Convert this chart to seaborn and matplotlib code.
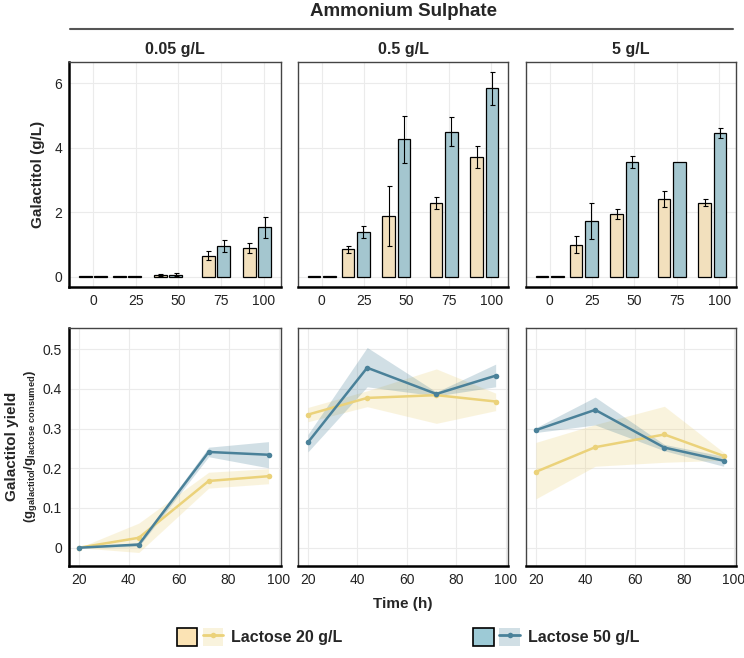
import numpy as np
import pandas as pd
import matplotlib.pyplot as plt
import seaborn as sns
from matplotlib.patches import Patch
from matplotlib.lines import Line2D
from matplotlib.legend_handler import HandlerTuple

"data"
panels = ['0.05 g/L', '0.5 g/L', '5 g/L']
lactose = ['Lactose 20 g/L', 'Lactose 50 g/L']

# galactitol titre (g/L), one row per ammonium sulphate level
bar_time = [0, 20, 44, 72, 96]
gal_20 = [[0.01, 0.01, 0.05, 0.65, 0.90],
          [0.01, 0.85, 1.88, 2.28, 3.72],
          [0.01, 0.99, 1.95, 2.41, 2.29]]
gal_20_sd = [[0, 0, 0.04, 0.14, 0.15],
             [0, 0.11, 0.92, 0.19, 0.35],
             [0, 0.26, 0.16, 0.24, 0.11]]
gal_50 = [[0.01, 0.01, 0.06, 0.95, 1.53],
          [0.01, 1.39, 4.26, 4.50, 5.84],
          [0.01, 1.73, 3.55, 3.57, 4.46]]
gal_50_sd = [[0, 0, 0.05, 0.18, 0.32],
             [0, 0.18, 0.73, 0.45, 0.50],
             [0, 0.55, 0.19, 0.0, 0.15]]

# galactitol yield (g/g lactose consumed) with shaded range
line_time = [20, 44, 72, 96]
yld_20 = [[0.0, 0.025, 0.168, 0.180],
          [0.335, 0.377, 0.384, 0.368],
          [0.191, 0.253, 0.285, 0.231]]
yld_20_lo = [[0.0, -0.012, 0.150, 0.161],
             [0.317, 0.355, 0.313, 0.345],
             [0.123, 0.205, 0.215, 0.220]]
yld_20_hi = [[0.0, 0.062, 0.190, 0.199],
             [0.353, 0.395, 0.450, 0.389],
             [0.265, 0.310, 0.356, 0.240]]
yld_50 = [[0.0, 0.008, 0.241, 0.234],
          [0.265, 0.453, 0.387, 0.433],
          [0.296, 0.347, 0.252, 0.219]]
yld_50_lo = [[0.0, 0.003, 0.229, 0.201],
             [0.241, 0.405, 0.382, 0.405],
             [0.290, 0.309, 0.244, 0.205]]
yld_50_hi = [[0.0, 0.013, 0.253, 0.267],
             [0.285, 0.504, 0.392, 0.462],
             [0.302, 0.379, 0.260, 0.230]]

bar_cols = ['#FBE3B4', '#9DCAD6']
line_cols = ['#EBD27A', '#4A8199']

sns.set_style('whitegrid')
plt.rcParams['font.family'] = ['Liberation Sans', 'DejaVu Sans']
plt.rcParams['mathtext.fontset'] = 'custom'
plt.rcParams['mathtext.rm'] = 'Liberation Sans'
plt.rcParams['mathtext.bf'] = 'Liberation Sans:bold'

W, H = 744, 658
fig = plt.figure(figsize=(W / 100, H / 100), dpi=100)
lefts = [69, 298, 526]
widths = [212, 210, 210]


def px(l, t, w, h):
    return [l / W, 1 - (t + h) / H, w / W, h / H]


def style(ax, first):
    ax.set_facecolor('white')
    ax.grid(True, color='#EBEBEB', lw=0.8)
    for s in ax.spines.values():
        s.set_color('#444444')
        s.set_linewidth(1.0)
        s.set_visible(True)
    ax.spines['bottom'].set_color('black')
    ax.spines['bottom'].set_linewidth(1.8)
    if first:
        ax.spines['left'].set_color('black')
        ax.spines['left'].set_linewidth(1.8)
    ax.tick_params(labelsize=10, length=0, pad=5, colors='#222222')
    ax.set_xlabel('')
    ax.set_ylabel('')


for i in range(3):
    # top row: bars
    ax = fig.add_axes(px(lefts[i], 62, widths[i], 225))
    df = pd.DataFrame({
        'time': bar_time * 2,
        'gal': gal_20[i] + gal_50[i],
        'lac': [lactose[0]] * 5 + [lactose[1]] * 5,
    })
    sns.barplot(data=df, x='time', y='gal', hue='lac', hue_order=lactose,
                palette=bar_cols, native_scale=True, width=0.9, gap=0.17,
                errorbar=None, edgecolor='black', linewidth=0.9,
                legend=False, ax=ax)
    for cont, sds in zip(ax.containers, [gal_20_sd[i], gal_50_sd[i]]):
        for bar, sd in zip(cont, sds):
            if sd > 0:
                ax.errorbar(bar.get_x() + bar.get_width() / 2, bar.get_height(),
                            yerr=sd, color='black', lw=0.8, capsize=1.8,
                            capthick=0.8)
    ax.set_xlim(-14, 110)
    ax.set_ylim(-0.317, 6.66)
    ax.set_xticks([0, 25, 50, 75, 100])
    ax.set_yticks([0, 2, 4, 6])
    style(ax, i == 0)
    if i > 0:
        ax.set_yticklabels([])
    ax.set_title(panels[i], fontsize=11.5, fontweight='bold', pad=6)

    # bottom row: yield lines
    ax2 = fig.add_axes(px(lefts[i], 328, widths[i], 238))
    dl = pd.DataFrame({
        'time': line_time * 2,
        'yield': yld_20[i] + yld_50[i],
        'lac': [lactose[0]] * 4 + [lactose[1]] * 4,
    })
    for k, (lo, hi) in enumerate([(yld_20_lo[i], yld_20_hi[i]),
                                  (yld_50_lo[i], yld_50_hi[i])]):
        ax2.fill_between(line_time, lo, hi, color=line_cols[k], alpha=0.25,
                         lw=0)
    sns.lineplot(data=dl, x='time', y='yield', hue='lac', hue_order=lactose,
                 palette=line_cols, marker='o', markersize=4,
                 markeredgewidth=0, lw=1.8, errorbar=None, legend=False,
                 ax=ax2)
    ax2.set_xlim(16, 101)
    ax2.set_ylim(-0.046, 0.553)
    ax2.set_xticks([20, 40, 60, 80, 100])
    ax2.set_yticks([0, 0.1, 0.2, 0.3, 0.4, 0.5])
    style(ax2, i == 0)
    if i == 0:
        ax2.set_yticklabels(['0', '0.1', '0.2', '0.3', '0.4', '0.5'])
    else:
        ax2.set_yticklabels([])

# header
fig.text(404 / W, 1 - 12 / H, 'Ammonium Sulphate', ha='center', va='center',
         fontsize=13.5, fontweight='bold')
fig.add_artist(Line2D([70 / W, 733 / W], [1 - 29 / H] * 2, color='#555555',
                      lw=1.5))

# axis labels
fig.text(38 / W, 1 - 174 / H, 'Galactitol (g/L)', rotation=90, ha='center',
         va='center', fontsize=11, fontweight='bold')
fig.text(12 / W, 1 - 446 / H, 'Galactitol yield', rotation=90, ha='center',
         va='center', fontsize=11, fontweight='bold')
fig.text(31 / W, 1 - 446 / H,
         r'$\mathbf{(g_{galactitol}/g_{lactose\ consumed})}$', rotation=90,
         ha='center', va='center', fontsize=9.5)
fig.text(403 / W, 1 - 604 / H, 'Time (h)', ha='center', va='center',
         fontsize=11, fontweight='bold')

# legend
handles = []
hmap = {}
for k in range(2):
    sq = Patch(facecolor=bar_cols[k], edgecolor='black', lw=1.2)
    band = Patch(facecolor=line_cols[k], alpha=0.25, edgecolor='none')
    ln = Line2D([], [], color=line_cols[k], lw=2, marker='o', markersize=4,
                markeredgewidth=0)
    h = (sq, (band, ln))
    handles.append(h)
    hmap[h] = HandlerTuple(ndivide=None, pad=0.35)
fig.legend(handles, lactose, handler_map=hmap, loc='center',
           bbox_to_anchor=(408 / W, 1 - 637 / H), ncol=2, frameon=False,
           handlelength=2.9, handleheight=1.3, handletextpad=0.5,
           columnspacing=8.2, prop={'size': 11.5, 'weight': 'bold'})

fig.savefig('out.png', dpi=100)
